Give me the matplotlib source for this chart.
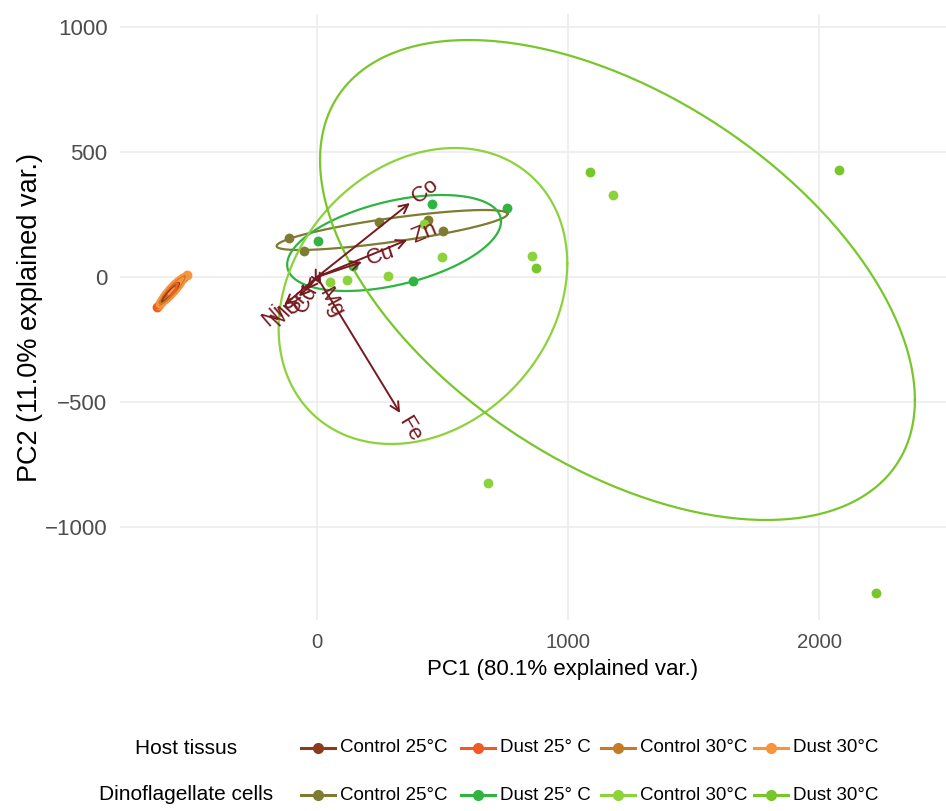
import numpy as np
import matplotlib
matplotlib.use('Agg')
import matplotlib.pyplot as plt
from matplotlib.lines import Line2D

plt.rcParams['font.family'] = ['Liberation Sans', 'DejaVu Sans']

groups = ['Host Control 25', 'Host Dust 25', 'Host Control 30', 'Host Dust 30',
          'Dino Control 25', 'Dino Dust 25', 'Dino Control 30', 'Dino Dust 30']
colors = ['#8b3a1e', '#f15a24', '#c77a26', '#f7943e',
          '#7d7c32', '#2fb441', '#8cd23c', '#78c72a']

# PC scores per group
pc1 = [
    [-600, -585, -570],
    [-637, -610, -590, -565],
    [-620, -575, -535],
    [-628, -580, -545, -520],
    [-112, -52, 247, 442, 502],
    [4, 458, 757, 143, 382],
    [426, 498, 283, 120, 52, 857, 1179, 681],
    [1088, 2080, 2227, 873],
]
pc2 = [
    [-78, -62, -44],
    [-120, -88, -66, -40],
    [-100, -50, -5],
    [-110, -55, -15, 10],
    [156, 104, 220, 228, 184],
    [144, 292, 276, 44, -16],
    [212, 80, 4, -12, -20, 84, 328, -824],
    [420, 428, -1264, 36],
]

# ellipses: centre, half extent in x and y, correlation
ell_cx = [-585, -600, -575, -578, 299, 307, 422, 1197]
ell_cy = [-62, -75, -50, -54, 188, 136, -76, -12]
ell_sx = [34, 44, 52, 60, 460, 426, 575, 1185]
ell_sy = [38, 50, 57, 66, 80, 192, 592, 960]
ell_r = [0.93, 0.92, 0.9, 0.88, 0.8, 0.45, 0.22, -0.5]

# loadings (arrow ends) and names
var_names = ['Co', 'Zn', 'Cu', 'Fe', 'Mg', 'Ni', 'Mn', 'Sr', 'Cd']
var_x = [370, 359, 179, 331, 16, -130, -72, -40, -9]
var_y = [296, 148, 60, -544, -30, -112, -78, -50, -18]

fig = plt.figure(figsize=(9.46, 8.11), dpi=100)
ax = fig.add_axes([120/946, 1-620/811, 826/946, 606/811])

for sp in ax.spines.values():
    sp.set_visible(False)
ax.grid(True, color='#ebebeb', lw=1.1)
ax.set_axisbelow(True)
ax.tick_params(axis='y', length=0, labelsize=16, colors='#4d4d4d', pad=9)
ax.tick_params(axis='x', length=0, labelsize=14.7, colors='#4d4d4d', pad=9)

t = np.linspace(0, 2*np.pi, 300)
for i in range(len(groups)):
    ax.scatter(pc1[i], pc2[i], s=50, color=colors[i], zorder=3, lw=0)
for i in range(len(groups)):
    ex = ell_cx[i] + ell_sx[i]*np.cos(t)
    ey = ell_cy[i] + ell_sy[i]*(ell_r[i]*np.cos(t) + np.sqrt(1-ell_r[i]**2)*np.sin(t))
    ax.plot(ex, ey, color=colors[i], lw=1.6, zorder=4)

arrow_col = '#761a1f'
for n, vx, vy in zip(var_names, var_x, var_y):
    ax.annotate('', xy=(vx, vy), xytext=(0, 0),
                arrowprops=dict(arrowstyle='->', color=arrow_col, lw=1.4,
                                mutation_scale=16, shrinkA=0, shrinkB=0), zorder=5)
    L = np.hypot(vx, vy)
    ang = np.degrees(np.arctan(vy/vx))
    ha = 'left' if vx > 0 else 'right'
    ax.text(vx + 22*vx/L, vy + 22*vy/L, n, color=arrow_col, fontsize=16,
            rotation=ang, rotation_mode='anchor', ha=ha, va='center', zorder=6)

ax.set_xlim(-785, 2506)
ax.set_ylim(-1372, 1052)
ax.set_xticks([0, 1000, 2000])
ax.set_yticks([-1000, -500, 0, 500, 1000])
ax.set_yticklabels(['\u22121000', '\u2212500', '0', '500', '1000'])
ax.set_xlabel('PC1 (80.1% explained var.)', fontsize=16, va='center')
ax.xaxis.set_label_coords((563-120)/826, (620-670)/606)
ax.set_ylabel('PC2 (11.0% explained var.)', fontsize=19.5, va='center')
ax.yaxis.set_label_coords((30-120)/826, 0.5)

# legend rows, drawn by hand
labels = ['Control 25°C', 'Dust 25° C', 'Control 30°C', 'Dust 30°C']
handle_x = [301, 461, 601, 754]
rows = [('Host tissus', colors[:4], 748), ('Dinoflagellate cells', colors[4:], 795)]
W, H = 946, 811
for title, cols, yy in rows:
    fig.text(186/W, 1-yy/H, title, fontsize=15, ha='center', va='center')
    for hx, c, lab in zip(handle_x, cols, labels):
        fig.add_artist(Line2D([hx/W, (hx+34)/W], [1-yy/H, 1-yy/H], color=c, lw=2.2,
                              transform=fig.transFigure))
        fig.add_artist(Line2D([(hx+17)/W], [1-yy/H], color=c, marker='o', ms=7,
                              transform=fig.transFigure))
        fig.text((hx+39)/W, 1-yy/H, lab, fontsize=13.5, ha='left', va='center')

fig.savefig('out.png', dpi=100)
